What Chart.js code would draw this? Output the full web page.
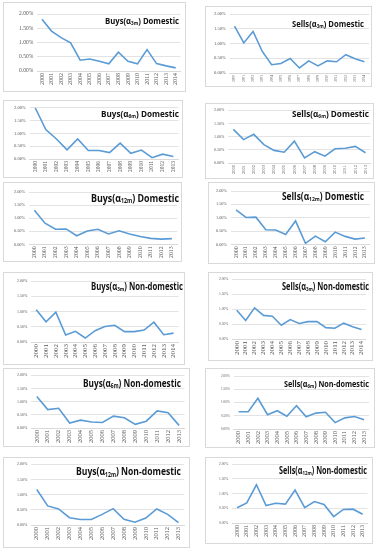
<!DOCTYPE html>
<html>
<head>
<meta charset="utf-8">
<script src="https://cdn.jsdelivr.net/npm/chart.js@4.4.1/dist/chart.umd.min.js"></script>
<style>
  body { margin: 0; background: #fff; width: 381px; height: 550px; position: relative; overflow: hidden; }
  .panel { position: absolute; border: 1px solid #d9d9d9; background: #fff; box-sizing: border-box; }
  .panel canvas { display: block; }
</style>
</head>
<body>
<script>
// years on the x axis (3-month series run one year longer)
const years15 = ["2000","2001","2002","2003","2004","2005","2006","2007","2008","2009","2010","2011","2012","2013","2014"];
const years14 = years15.slice(0, 14);

// y axis ticks, in percent
const yTicks = [0, 0.5, 1.0, 1.5, 2.0];

// series values, in percent
const buys3mDom    = [1.82, 1.40, 1.17, 0.99, 0.38, 0.42, 0.34, 0.25, 0.66, 0.34, 0.25, 0.75, 0.26, 0.18, 0.11];
const sells3mDom   = [1.59, 1.02, 1.41, 0.73, 0.28, 0.32, 0.49, 0.17, 0.41, 0.24, 0.41, 0.38, 0.62, 0.48, 0.38];
const buys6mDom    = [2.00, 1.15, 0.78, 0.36, 0.78, 0.33, 0.33, 0.25, 0.62, 0.22, 0.35, 0.05, 0.19, 0.10];
const sells6mDom   = [1.28, 0.89, 1.09, 0.70, 0.48, 0.41, 0.83, 0.19, 0.43, 0.26, 0.54, 0.56, 0.63, 0.39];
const buys12mDom   = [1.30, 0.81, 0.58, 0.59, 0.33, 0.51, 0.58, 0.40, 0.52, 0.40, 0.30, 0.23, 0.20, 0.22];
const sells12mDom  = [1.29, 1.01, 1.02, 0.55, 0.54, 0.37, 0.88, 0.04, 0.31, 0.10, 0.46, 0.30, 0.20, 0.24];
const buys3mNon    = [1.06, 0.66, 0.98, 0.23, 0.35, 0.13, 0.37, 0.51, 0.55, 0.34, 0.34, 0.39, 0.65, 0.24, 0.29];
const sells3mNon   = [0.96, 0.62, 1.04, 0.79, 0.76, 0.46, 0.65, 0.52, 0.58, 0.58, 0.38, 0.36, 0.53, 0.41, 0.32];
const buys6mNon    = [1.20, 0.70, 0.75, 0.19, 0.30, 0.23, 0.21, 0.45, 0.39, 0.14, 0.26, 0.65, 0.58, 0.10];
const sells6mNon   = [0.65, 0.65, 1.16, 0.54, 0.69, 0.48, 0.88, 0.46, 0.60, 0.63, 0.24, 0.42, 0.47, 0.35];
const buys12mNon   = [1.17, 0.63, 0.53, 0.24, 0.18, 0.18, 0.35, 0.54, 0.19, 0.09, 0.23, 0.53, 0.35, 0.08];
const sells12mNon  = [0.52, 0.68, 1.30, 0.59, 0.67, 0.64, 1.12, 0.52, 0.73, 0.63, 0.22, 0.46, 0.47, 0.30];

// panel titles: side, horizon (subscript), market
const panels = [
  { side: "Buys",  sub: "3m",  market: "Domestic",     labels: years15, data: buys3mDom },
  { side: "Sells", sub: "3m",  market: "Domestic",     labels: years15, data: sells3mDom },
  { side: "Buys",  sub: "6m",  market: "Domestic",     labels: years14, data: buys6mDom },
  { side: "Sells", sub: "6m",  market: "Domestic",     labels: years14, data: sells6mDom },
  { side: "Buys",  sub: "12m", market: "Domestic",     labels: years14, data: buys12mDom },
  { side: "Sells", sub: "12m", market: "Domestic",     labels: years14, data: sells12mDom },
  { side: "Buys",  sub: "3m",  market: "Non-domestic", labels: years15, data: buys3mNon },
  { side: "Sells", sub: "3m",  market: "Non-domestic", labels: years15, data: sells3mNon },
  { side: "Buys",  sub: "6m",  market: "Non-domestic", labels: years14, data: buys6mNon },
  { side: "Sells", sub: "6m",  market: "Non-domestic", labels: years14, data: sells6mNon },
  { side: "Buys",  sub: "12m", market: "Non-domestic", labels: years14, data: buys12mNon },
  { side: "Sells", sub: "12m", market: "Non-domestic", labels: years14, data: sells12mNon },
];

// layout of each pasted panel (they were pasted at slightly different scales)
// box: [left, top, width, height], pad: [top, right, bottom, left]
// yFont/xFont: tick sizes, title: [width, centre y, gap from right, font size]
const styles = [
  { box: [3, 2, 183, 90],   pad: [11, 3, 4, 11], yFont: 5.5, xFont: 6,   title: [74, 18, 6, 9.5] },
  { box: [205, 6, 167, 81], pad: [7, 2, 2, 4],   yFont: 4.6, xFont: 3.5, title: [72, 17, 7, 9] },
  { box: [3, 100, 180, 78], pad: [5, 3, 3, 6],   yFont: 4.6, xFont: 5.5, title: [78, 13, 3, 9.5] },
  { box: [205, 103, 169, 76], pad: [3, 2, 2, 4], yFont: 4,   xFont: 4.5, title: [77, 10, 4, 9.5] },
  { box: [3, 182, 179, 80], pad: [9, 3, 1, 6],   yFont: 4.3, xFont: 5.8, title: [88, 16, 2, 10.5] },
  { box: [208, 182, 167, 82], pad: [8, 2, 3, 3], yFont: 4.3, xFont: 5.8, title: [82, 14, 10, 10] },
  { box: [3, 272, 182, 93], pad: [8, 2, 4, 9],   yFont: 4,   xFont: 7,   title: [92, 14, 1, 10] },
  { box: [208, 272, 165, 89], pad: [5, 2, 3, 6], yFont: 3.6, xFont: 7,   title: [87, 14, 3, 10] },
  { box: [3, 368, 187, 79], pad: [6, 4, 1, 9],   yFont: 4,   xFont: 6.5, title: [98, 15, 8, 10.5] },
  { box: [205, 368, 170, 80], pad: [7, 3, 1, 11], yFont: 3.4, xFont: 6.5, title: [85, 15, 5, 9.5] },
  { box: [3, 457, 187, 91], pad: [5, 5, 5, 9],   yFont: 4,   xFont: 6.5, title: [105, 14, 8, 11] },
  { box: [205, 457, 168, 87], pad: [6, 4, 4, 9], yFont: 3.6, xFont: 6,   title: [88, 13, 5, 10] },
];

// title drawn inside the panel, top right, with a subscripted horizon.
// the originals use a narrow bold face, so the text is squeezed to width.
const panelTitle = {
  id: "panelTitle",
  afterDraw(chart, args, opts) {
    const { ctx, width } = chart;
    const fam = '"Open Sans", sans-serif';
    const size = opts.size;
    const parts = [
      { t: opts.side + "(\u03b1", scale: 1, dy: 0 },
      { t: opts.sub, scale: 0.6, dy: 0.25 },
      { t: ") " + opts.market, scale: 1, dy: 0 },
    ];
    ctx.save();
    let total = 0;
    parts.forEach(p => { ctx.font = "bold " + size * p.scale + "px " + fam; p.w = ctx.measureText(p.t).width; total += p.w; });
    const sx = Math.min(1, opts.width / total);
    ctx.translate(width - opts.right - total * sx, opts.cy);
    ctx.scale(sx, 1);
    ctx.fillStyle = "#111";
    ctx.textBaseline = "middle";
    let x = 0;
    parts.forEach(p => {
      ctx.font = "bold " + size * p.scale + "px " + fam;
      ctx.fillText(p.t, x, p.dy * size);
      x += p.w;
    });
    ctx.restore();
  }
};

panels.forEach((p, i) => {
  const s = styles[i];
  const [left, top, w, h] = s.box;
  const div = document.createElement("div");
  div.className = "panel";
  div.style.left = left + "px";
  div.style.top = top + "px";
  div.style.width = w + "px";
  div.style.height = h + "px";
  const canvas = document.createElement("canvas");
  canvas.width = w - 2;
  canvas.height = h - 2;
  div.appendChild(canvas);
  document.body.appendChild(div);

  new Chart(canvas.getContext("2d"), {
    type: "line",
    data: {
      labels: p.labels,
      datasets: [{
        data: p.data,
        borderColor: "#5B9BD5",
        borderWidth: 1.6,
        pointRadius: 0,
        tension: 0,
      }],
    },
    options: {
      responsive: false,
      animation: false,
      layout: { padding: { top: s.pad[0], right: s.pad[1], bottom: s.pad[2], left: s.pad[3] } },
      plugins: {
        legend: { display: false },
        tooltip: { enabled: false },
        panelTitle: { side: p.side, sub: p.sub, market: p.market,
                      width: s.title[0], cy: s.title[1], right: s.title[2], size: s.title[3] },
      },
      scales: {
        x: {
          offset: true,
          grid: { display: false, drawTicks: false },
          border: { color: "#d9d9d9" },
          ticks: {
            minRotation: 90, maxRotation: 90, autoSkip: false, padding: 2,
            color: "#595959",
            font: { family: '"Liberation Serif", serif', size: s.xFont },
          },
        },
        y: {
          min: yTicks[0],
          max: yTicks[yTicks.length - 1],
          afterBuildTicks: axis => { axis.ticks = yTicks.map(v => ({ value: v })); },
          grid: { color: "#e3e3e3", drawTicks: false },
          border: { display: false },
          ticks: {
            padding: 4,
            color: "#595959",
            font: { family: '"Liberation Serif", serif', size: s.yFont },
            callback: v => v.toFixed(2) + "%",
          },
        },
      },
    },
    plugins: [panelTitle],
  });
});
</script>
</body>
</html>
